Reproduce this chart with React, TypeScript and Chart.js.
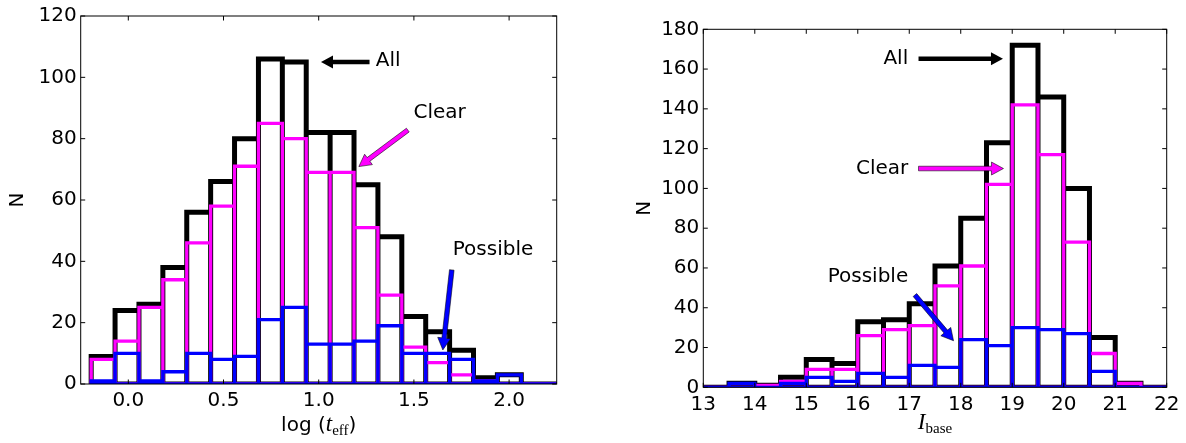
import React, { useEffect, useRef } from "react";
import { Chart, registerables } from "chart.js";
Chart.register(...registerables);

// ---------- Left panel: log(t_eff) ----------
const leftBinStart = -0.195;
const leftBinWidth = 0.1255;
const leftAll = [9, 24, 26, 38, 56, 66, 80, 106, 105, 82, 82, 65, 48, 22, 17, 11, 2, 3, 0, 0];
const leftClear = [8, 14, 25, 34, 46, 58, 71, 85, 80, 69, 69, 51, 29, 12, 7, 3, 1, 0, 0, 0];
const leftPossible = [1, 10, 1, 4, 10, 8, 9, 21, 25, 13, 13, 14, 19, 10, 10, 8, 1, 3, 0, 0];
const leftXTicks = [0.0, 0.5, 1.0, 1.5, 2.0];
const leftYTicks = [0, 20, 40, 60, 80, 100, 120];

// ---------- Right panel: I_base ----------
const rightBinStart = 13;
const rightBinWidth = 0.5;
const rightAll = [0, 2, 1, 5, 14, 12, 33, 34, 42, 61, 85, 123, 172, 146, 100, 25, 2, 0];
const rightClear = [0, 0, 1, 3, 9, 9, 26, 29, 31, 51, 61, 102, 142, 117, 73, 17, 2, 0];
const rightPossible = [0, 2, 0, 2, 5, 3, 7, 5, 11, 10, 24, 21, 30, 29, 27, 8, 0, 0];
const rightXTicks = [13, 14, 15, 16, 17, 18, 19, 20, 21, 22];
const rightYTicks = [0, 20, 40, 60, 80, 100, 120, 140, 160, 180];

const seriesNames = ["All", "Clear", "Possible"];
const seriesColors = ["#000000", "#ff00ff", "#0000ff"];

function outline(start: number, width: number, values: number[]) {
  const pts: { x: number; y: number }[] = [{ x: start, y: 0 }];
  values.forEach((v, i) => {
    const l = start + i * width;
    const r = l + width;
    pts.push({ x: l, y: v }, { x: r, y: v }, { x: r, y: 0 });
  });
  pts.push({ x: start, y: 0 });
  return pts;
}

function drawArrow(ctx: CanvasRenderingContext2D, x1: number, y1: number, x2: number, y2: number, fill: string, stroke: string | null) {
  const dx = x2 - x1, dy = y2 - y1;
  const L = Math.hypot(dx, dy);
  const ux = dx / L, uy = dy / L;
  const nx = -uy, ny = ux;
  const hl = 12, hw = 6.5, sw = 2.3;
  const bx = x2 - ux * hl, by = y2 - uy * hl;
  ctx.beginPath();
  ctx.moveTo(x1 + nx * sw, y1 + ny * sw);
  ctx.lineTo(bx + nx * sw, by + ny * sw);
  ctx.lineTo(bx + nx * hw, by + ny * hw);
  ctx.lineTo(x2, y2);
  ctx.lineTo(bx - nx * hw, by - ny * hw);
  ctx.lineTo(bx - nx * sw, by - ny * sw);
  ctx.lineTo(x1 - nx * sw, y1 - ny * sw);
  ctx.closePath();
  ctx.fillStyle = fill;
  ctx.fill();
  if (stroke) {
    ctx.strokeStyle = stroke;
    ctx.lineWidth = 0.8;
    ctx.lineJoin = "miter";
    ctx.stroke();
  }
}

const decoPlugin = {
  id: "deco",
  afterDatasetsDraw(chart: any, _args: any, opts: any) {
    const { ctx, chartArea: a, scales } = chart;
    const xs = scales.x, ys = scales.y;
    ctx.save();
    // frame
    ctx.strokeStyle = "#000";
    ctx.lineWidth = 1;
    ctx.strokeRect(a.left, a.top, a.right - a.left, a.bottom - a.top);
    // inward ticks
    const tl = 4.5;
    ctx.beginPath();
    opts.xTicks.forEach((v: number) => {
      const px = xs.getPixelForValue(v);
      ctx.moveTo(px, a.bottom); ctx.lineTo(px, a.bottom - tl);
      ctx.moveTo(px, a.top); ctx.lineTo(px, a.top + tl);
    });
    opts.yTicks.forEach((v: number) => {
      const py = ys.getPixelForValue(v);
      ctx.moveTo(a.left, py); ctx.lineTo(a.left + tl, py);
      ctx.moveTo(a.right, py); ctx.lineTo(a.right - tl, py);
    });
    ctx.stroke();

    // annotations
    opts.notes.forEach((n: any) => {
      const tx = xs.getPixelForValue(n.tx), ty = ys.getPixelForValue(n.ty);
      ctx.font = "20px 'DejaVu Sans'";
      ctx.fillStyle = "#000";
      ctx.textAlign = n.align;
      ctx.textBaseline = "middle";
      ctx.fillText(n.text, tx, ty);
      drawArrow(
        ctx,
        xs.getPixelForValue(n.from[0]), ys.getPixelForValue(n.from[1]),
        xs.getPixelForValue(n.to[0]), ys.getPixelForValue(n.to[1]),
        n.color, n.color === "#000000" ? null : "rgba(0,0,0,0.7)"
      );
    });

    // y title
    ctx.save();
    ctx.translate(opts.yTitleX, (a.top + a.bottom) / 2);
    ctx.rotate(-Math.PI / 2);
    ctx.font = "20px 'DejaVu Sans'";
    ctx.fillStyle = "#000";
    ctx.textAlign = "center";
    ctx.textBaseline = "middle";
    ctx.fillText("N", 0, 0);
    ctx.restore();

    // x title (mixed fonts)
    const parts = opts.xTitle as { t: string; f: string; dy: number }[];
    let total = 0;
    parts.forEach((p) => { ctx.font = p.f; total += ctx.measureText(p.t).width; });
    let x = (a.left + a.right) / 2 - total / 2;
    ctx.textAlign = "left";
    ctx.textBaseline = "alphabetic";
    ctx.fillStyle = "#000";
    parts.forEach((p) => {
      ctx.font = p.f;
      ctx.fillText(p.t, x, opts.xTitleY + p.dy);
      x += ctx.measureText(p.t).width;
    });
    ctx.restore();
  },
};

function makeConfig(p: any) {
  const sets = [p.all, p.clear, p.possible];
  const widths = [5, 3.3, 3.3];
  return {
    type: "line",
    data: {
      datasets: sets.map((vals: number[], i: number) => ({
        label: seriesNames[i],
        data: outline(p.start, p.width, vals),
        borderColor: seriesColors[i],
        borderWidth: widths[i],
        order: 3 - i,
        fill: false,
        pointRadius: 0,
        tension: 0,
        borderJoinStyle: "miter",
        borderCapStyle: "butt",
      })),
    },
    options: {
      animation: false,
      responsive: false,
      maintainAspectRatio: false,
      layout: { padding: { left: 0, top: p.top, right: p.right, bottom: 0 } },
      plugins: {
        legend: { display: false },
        tooltip: { enabled: false },
        deco: {
          xTicks: p.xTicks,
          yTicks: p.yTicks,
          notes: p.notes,
          yTitleX: p.yTitleX,
          xTitle: p.xTitle,
          xTitleY: p.xTitleY,
        },
      },
      scales: {
        x: {
          type: "linear",
          min: p.xMin,
          max: p.xMax,
          grid: { display: false, drawTicks: false },
          border: { display: false },
          ticks: {
            color: "#000",
            font: { family: "'DejaVu Sans'", size: 20 },
            padding: 5,
            maxRotation: 0,
            autoSkip: false,
            callback: (v: number) => p.xFmt(v),
          },
          afterBuildTicks: (s: any) => { s.ticks = p.xTicks.map((v: number) => ({ value: v })); },
          afterFit: (s: any) => { s.height = p.xAxisH; },
        },
        y: {
          type: "linear",
          min: 0,
          max: p.yMax,
          grid: { display: false, drawTicks: false },
          border: { display: false },
          ticks: {
            color: "#000",
            font: { family: "'DejaVu Sans'", size: 20 },
            padding: 4,
            autoSkip: false,
          },
          afterBuildTicks: (s: any) => { s.ticks = p.yTicks.map((v: number) => ({ value: v })); },
          afterFit: (s: any) => { s.width = p.yAxisW; },
        },
      },
    },
    plugins: [decoPlugin],
  };
}

const leftParams = {
  start: leftBinStart, width: leftBinWidth,
  all: leftAll, clear: leftClear, possible: leftPossible,
  xTicks: leftXTicks, yTicks: leftYTicks,
  xMin: -0.25, xMax: 2.25, yMax: 120,
  xFmt: (v: number) => v.toFixed(1),
  top: 16, right: 36.3, yAxisW: 80.7, xAxisH: 59,
  yTitleX: 17.5, xTitleY: 431,
  xTitle: [
    { t: "log (", f: "20px 'DejaVu Sans'", dy: 0 },
    { t: "t", f: "italic 23px 'Liberation Serif'", dy: 0 },
    { t: "eff", f: "15px 'Liberation Serif'", dy: 4 },
    { t: ")", f: "20px 'DejaVu Sans'", dy: 0 },
  ],
  notes: [
    { text: "All", tx: 1.30, ty: 105.3, align: "left", color: "#000000", from: [1.267, 105], to: [1.012, 105] },
    { text: "Clear", tx: 1.498, ty: 88.5, align: "left", color: "#ff00ff", from: [1.468, 82.8], to: [1.211, 70.9] },
    { text: "Possible", tx: 1.704, ty: 43.7, align: "left", color: "#0000ff", from: [1.699, 37.2], to: [1.652, 11.1] },
  ],
};

const rightParams = {
  start: rightBinStart, width: rightBinWidth,
  all: rightAll, clear: rightClear, possible: rightPossible,
  xTicks: rightXTicks, yTicks: rightYTicks,
  xMin: 13, xMax: 22, yMax: 180,
  xFmt: (v: number) => String(v),
  top: 29.3, right: 19.3, yAxisW: 110.3, xAxisH: 55.7,
  yTitleX: 52, xTitleY: 429,
  xTitle: [
    { t: "I", f: "italic 23px 'Liberation Serif'", dy: 0 },
    { t: "base", f: "15px 'Liberation Serif'", dy: 4 },
  ],
  notes: [
    { text: "All", tx: 16.98, ty: 165.4, align: "right", color: "#000000", from: [17.18, 165.2], to: [18.82, 165.2] },
    { text: "Clear", tx: 16.98, ty: 110.1, align: "right", color: "#ff00ff", from: [17.18, 110], to: [18.83, 110] },
    { text: "Possible", tx: 16.98, ty: 55.6, align: "right", color: "#0000ff", from: [17.11, 46.4], to: [17.86, 23.4] },
  ],
};

export default function App() {
  const leftRef = useRef<HTMLCanvasElement>(null);
  const rightRef = useRef<HTMLCanvasElement>(null);

  useEffect(() => {
    const c1 = new Chart(leftRef.current as HTMLCanvasElement, makeConfig(leftParams) as any);
    const c2 = new Chart(rightRef.current as HTMLCanvasElement, makeConfig(rightParams) as any);
    return () => { c1.destroy(); c2.destroy(); };
  }, []);

  return (
    <div style={{ position: "fixed", left: 0, top: 0, width: 1186, height: 443, background: "#fff" }}>
      <canvas ref={leftRef} width={593} height={443} style={{ position: "absolute", left: 0, top: 0, width: 593, height: 443 }} />
      <canvas ref={rightRef} width={593} height={443} style={{ position: "absolute", left: 593, top: 0, width: 593, height: 443 }} />
    </div>
  );
}
